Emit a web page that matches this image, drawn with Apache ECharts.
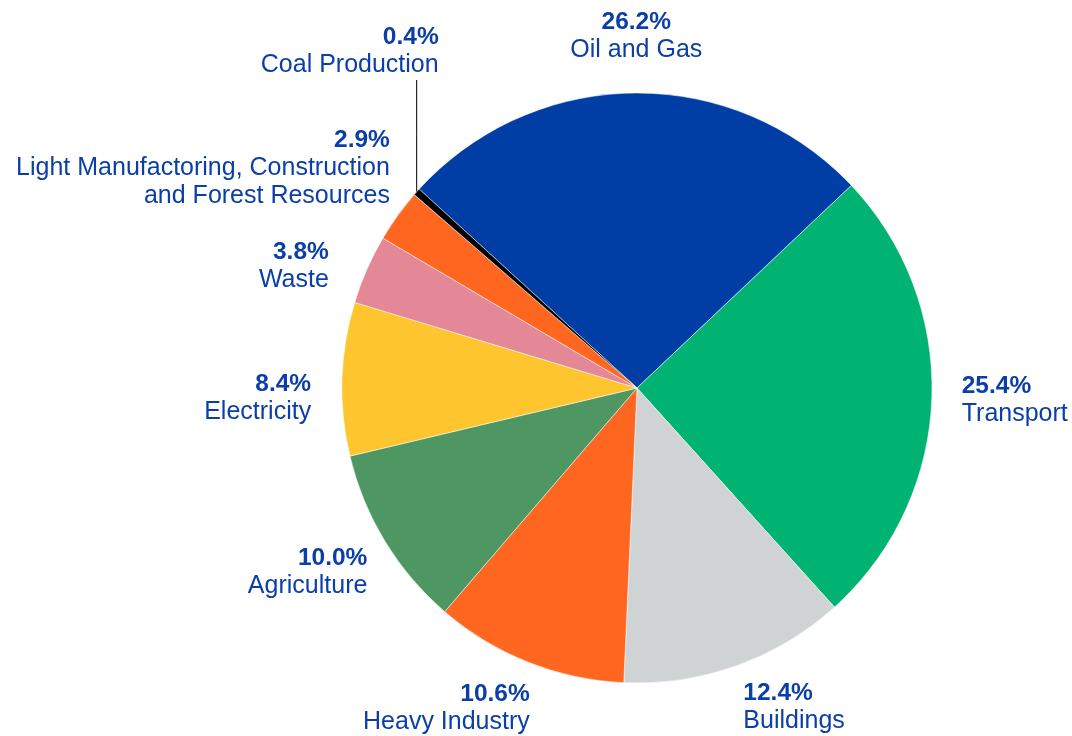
<!DOCTYPE html>
<html>
<head>
<meta charset="utf-8">
<script src="https://cdn.jsdelivr.net/npm/echarts@6/dist/echarts.min.js"></script>
<style>
  html, body { margin: 0; padding: 0; background: #ffffff; }
  #chart { width: 1072px; height: 736px; }
</style>
</head>
<body>
<div id="chart"></div>
<script>
// ---- data ----
const categories = [
  'Oil and Gas',
  'Transport',
  'Buildings',
  'Heavy Industry',
  'Agriculture',
  'Electricity',
  'Waste',
  'Light Manufactoring, Construction\nand Forest Resources',
  'Coal Production'
];
const shares = [26.2, 25.4, 12.4, 10.6, 10.0, 8.4, 3.8, 2.9, 0.4];
const sliceColors = ['#003da5', '#00b373', '#d0d3d4', '#ff6720', '#4e9763', '#ffc52f', '#e48797', '#ff6720', '#000000'];

// ---- layout / style (not data) ----
const CX = 637, CY = 388, R = 295;
const START_ANGLE = 137.6;        // ECharts degrees (90 = 12 o'clock)
const LABEL_R = 318;
const labelNudge = [[2, -6], [7, -1], [-1, -8], [10, -3], [2, -9], [-8, 20], [-17, 6], [11, 8], [0, 0]];
const LEADER_INDEX = 8;           // slice whose label uses a leader line
const TEXT_COLOR = '#0b3ea8';
const FONT = '"Liberation Sans", Arial, sans-serif';

const total = shares.reduce((a, b) => a + b, 0);
function midAngleDeg(i) {          // clockwise from 12 o'clock
  let cum = 0;
  for (let k = 0; k < i; k++) cum += shares[k];
  return (90 - START_ANGLE) + (cum + shares[i] / 2) / total * 360;
}

const chart = echarts.init(document.getElementById('chart'), null, { renderer: 'canvas' });

const data = categories.map((name, i) => {
  const item = { name: name, value: shares[i], itemStyle: { color: sliceColors[i] } };
  if (i === LEADER_INDEX) {
    item.labelLine = { show: true, lineStyle: { color: '#000000', width: 1 } };
  }
  return item;
});

chart.setOption({
  backgroundColor: '#ffffff',
  animation: false,
  series: [{
    type: 'pie',
    center: [CX, CY],
    radius: [0, R],
    startAngle: START_ANGLE,
    clockwise: true,
    avoidLabelOverlap: false,
    emphasis: { disabled: true },
    itemStyle: { borderColor: '#ffffff', borderWidth: 0.5 },
    label: {
      show: true,
      position: 'outside',
      formatter: p => '{pct|' + p.value.toFixed(1) + '%}\n{nm|' + p.name + '}',
      rich: {
        pct: { fontFamily: FONT, fontSize: 24.5, fontWeight: 'bold', lineHeight: 28, color: TEXT_COLOR },
        nm: { fontFamily: FONT, fontSize: 25, lineHeight: 28, color: TEXT_COLOR }
      }
    },
    labelLine: { show: false },
    labelLayout: function (params) {
      const i = params.dataIndex;
      const th = midAngleDeg(i) * Math.PI / 180;
      const s = Math.sin(th), c = Math.cos(th);
      if (i === LEADER_INDEX) {
        const ex = CX + R * s, ey = CY - R * c;
        const topY = CY - (R + 13);
        return {
          x: ex + 22, y: topY - 1,
          align: 'right', verticalAlign: 'bottom',
          labelLinePoints: [[ex, ey], [ex, (ey + topY) / 2], [ex, topY]]
        };
      }
      const align = Math.abs(s) < 0.2 ? 'center' : (s > 0 ? 'left' : 'right');
      const valign = c > 0.55 ? 'bottom' : (c < -0.45 ? 'top' : 'middle');
      return {
        x: CX + LABEL_R * s + labelNudge[i][0],
        y: CY - LABEL_R * c + labelNudge[i][1],
        align: align,
        verticalAlign: valign
      };
    },
    data: data
  }]
});
</script>
</body>
</html>
